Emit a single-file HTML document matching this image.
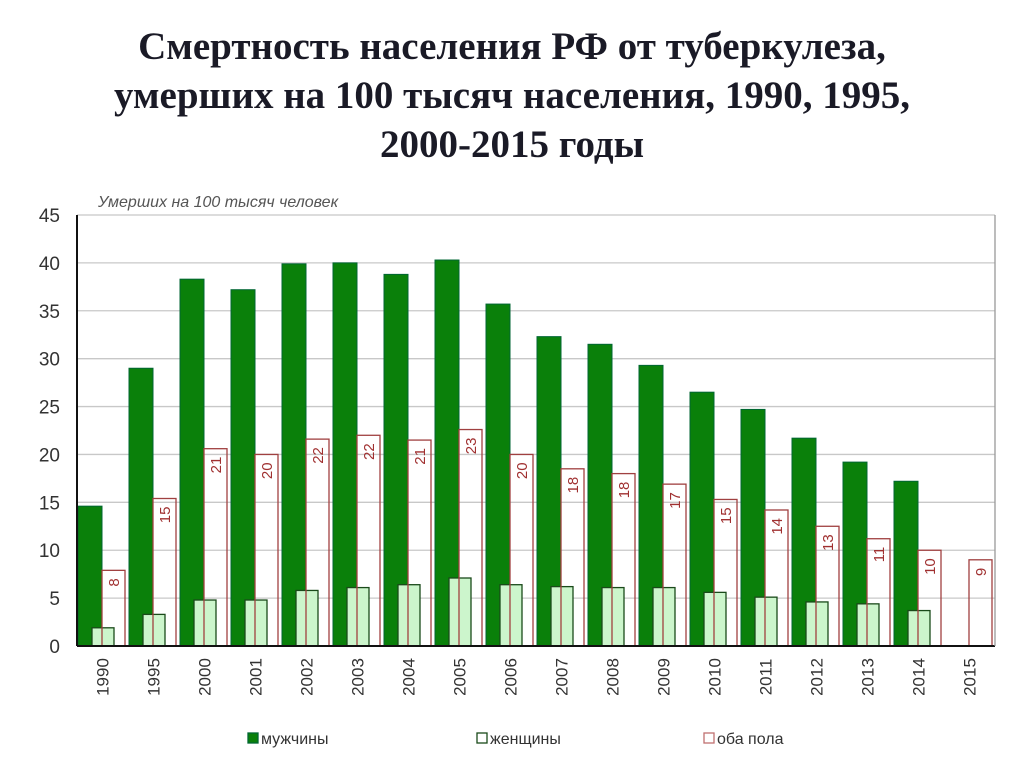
<!DOCTYPE html>
<html><head><meta charset="utf-8"><style>
body{margin:0;background:#fff;width:1024px;height:767px;overflow:hidden}
.t{position:absolute;left:0;width:1024px;text-align:center;font-family:"Liberation Serif",serif;font-weight:bold;font-size:39px;color:#1a1a26;line-height:49px;top:22px;white-space:nowrap}
svg{position:absolute;left:0;top:0}
</style></head><body>
<div class="t">Смертность населения РФ от туберкулеза,<br>умерших на 100 тысяч населения, 1990, 1995,<br>2000-2015 годы</div>
<svg id="c" width="1024" height="767"></svg>
<script>
const years=["1990","1995","2000","2001","2002","2003","2004","2005","2006","2007","2008","2009","2010","2011","2012","2013","2014","2015"];
const male=[14.6,29,38.3,37.2,39.9,40,38.8,40.3,35.7,32.3,31.5,29.3,26.5,24.7,21.7,19.2,17.2,0];
const female=[1.9,3.3,4.8,4.8,5.8,6.1,6.4,7.1,6.4,6.2,6.1,6.1,5.6,5.1,4.6,4.4,3.7,0];
const both=[7.9,15.4,20.6,20.0,21.6,22.0,21.5,22.6,20.0,18.5,18.0,16.9,15.3,14.2,12.5,11.2,10.0,9.0];
const bothLabels=["8","15","21","20","22","22","21","23","20","18","18","17","15","14","13","11","10","9"];
const yTicks=[0,5,10,15,20,25,30,35,40,45];
const svg=document.getElementById('c');const NS='http://www.w3.org/2000/svg';
const L=77,R=995,B=646,T=215,ymax=45;
const y=v=>B-v/ymax*(B-T);const gw=(R-L)/years.length;const x=i=>L+i*gw;
function mk(t,a,p){const e=document.createElementNS(NS,t);for(const k in a)e.setAttribute(k,a[k]);(p||svg).appendChild(e);return e;}
yTicks.forEach(v=>{const g=mk('line',{x1:L,x2:R,y1:y(v),y2:y(v),stroke:'#c8c8c8','stroke-width':1.3});


const t=mk('text',{x:60,y:y(v)+7,'text-anchor':'end','font-family':'Liberation Sans,sans-serif','font-size':19,fill:'#333'});t.textContent=v;

});
const at=mk('text',{x:98,y:207,'font-family':'Liberation Sans,sans-serif','font-size':16,'font-style':'italic',fill:'#555'});at.textContent='Умерших на 100 тысяч человек';


years.forEach((yr,i)=>{const x0=x(i);
if(male[i]>0){const m=mk('rect',{x:x0+1,y:y(male[i]),width:24,height:B-y(male[i]),fill:'#0a800a',stroke:'#063',"stroke-width":1});

}
if(female[i]>0){const f=mk('rect',{x:x0+15,y:y(female[i]),width:22,height:B-y(female[i]),fill:'#ccf5cc',stroke:'#1a4a1a',"stroke-width":1.3});

}
const b=mk('rect',{x:x0+25,y:y(both[i]),width:23,height:B-y(both[i]),fill:'none',stroke:'#a04040',"stroke-width":1.3});


const lt=mk('text',{transform:`translate(${x0+42},${y(both[i])+8}) rotate(-90)`,'text-anchor':'end','font-family':'Liberation Sans,sans-serif','font-size':15,fill:'#a03030'});lt.textContent=bothLabels[i];


const xt=mk('text',{transform:`translate(${x0+gw/2+6},${677}) rotate(-90)`,'text-anchor':'middle','font-family':'Liberation Sans,sans-serif','font-size':17,fill:'#333'});xt.textContent=yr;

});
mk('line',{x1:L,x2:L,y1:T,y2:B,stroke:'#111','stroke-width':2});
mk('line',{x1:L,x2:R,y1:B,y2:B,stroke:'#111','stroke-width':2});
mk('line',{x1:R,x2:R,y1:T,y2:B,stroke:'#999','stroke-width':1.3});
const lg=[['мужчины','#0a800a','#063',248],['женщины','#fff','#1a4a1a',477],['оба пола','#fff','#c07070',704]];
lg.forEach(l=>{const r=mk('rect',{x:l[3],y:733,width:10,height:10,fill:l[1],stroke:l[2],'stroke-width':1.3});


const t=mk('text',{x:l[3]+13,y:744,'font-family':'Liberation Sans,sans-serif','font-size':16,fill:'#333'});t.textContent=l[0];

});
</script>
</body></html>
